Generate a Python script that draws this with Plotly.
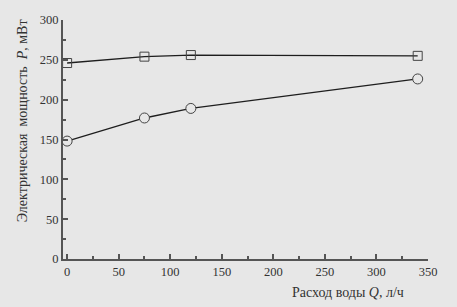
import plotly.graph_objects as go

flow_q = [0, 75, 120, 340]
power_upper = [246, 254, 256, 255]
power_lower = [148, 177, 189, 226]

x_ticks = [0, 50, 100, 150, 200, 250, 300, 350]
y_ticks = [0, 50, 100, 150, 200, 250, 300]

bg = "#e7e7e7"
line_col = "#1e1e1e"
font = dict(family="Liberation Serif, Times New Roman, serif", size=12.5, color="#333333")
title_font = dict(family="Liberation Serif, Times New Roman, serif", size=14, color="#333333")

fig = go.Figure()
fig.add_trace(go.Scatter(x=flow_q, y=power_upper, mode="lines+markers",
                         line=dict(color=line_col, width=1.3),
                         marker=dict(symbol="square-open", size=9, color="#444444", line=dict(width=1))))
fig.add_trace(go.Scatter(x=flow_q, y=power_lower, mode="lines+markers",
                         line=dict(color=line_col, width=1.3),
                         marker=dict(symbol="circle", size=10, color=bg, line=dict(width=1, color="#444444"))))

axis_common = dict(showgrid=False, zeroline=False, showline=True, linecolor="#555555", linewidth=2,
                   ticks="inside", ticklen=5, tickcolor="#555555", tickwidth=2,
                   tickfont=font, mirror=False)

fig.update_xaxes(range=[-4, 350], tickvals=x_ticks,
                 minor=dict(dtick=25, tick0=0, ticks="inside", ticklen=3, tickcolor="#555555"),
                 **axis_common)
fig.update_yaxes(range=[0, 300], tickvals=y_ticks,
                 minor=dict(dtick=25, tick0=0, ticks="inside", ticklen=3, tickcolor="#555555"),
                 **axis_common)

fig.add_annotation(text="Расход воды <i>Q</i>, л/ч", xref="paper", yref="paper",
                   x=0.94, y=-0.1, xanchor="right", yanchor="top", showarrow=False, font=title_font)
fig.add_annotation(text="Электрическая  мощность  <i>P</i>, мВт", xref="paper", yref="paper",
                   x=-0.11, y=0.58, xanchor="center", yanchor="middle", textangle=-90,
                   showarrow=False, font=title_font)

fig.update_layout(width=457, height=307, showlegend=False,
                  paper_bgcolor=bg, plot_bgcolor=bg,
                  margin=dict(l=63, r=29, t=20, b=48))

fig.write_html("out.html", config={"displayModeBar": False},
               post_script="document.body.style.margin='0';document.body.style.background='%s';" % bg)
